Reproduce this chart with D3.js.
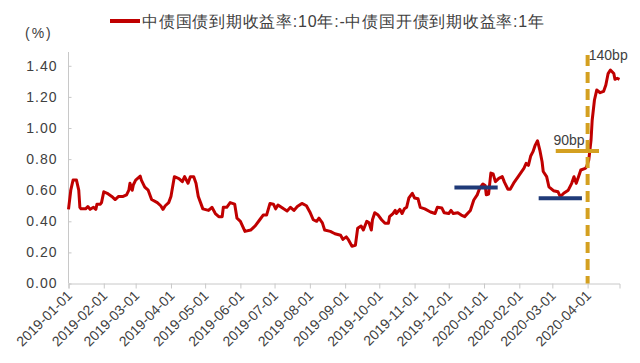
<!DOCTYPE html>
<html><head><meta charset="utf-8">
<script src="https://cdn.jsdelivr.net/npm/d3@7/dist/d3.min.js"></script>
<style>
html,body{margin:0;padding:0;background:#fff;}
svg{display:block;}
text{font-family:"Liberation Sans",Arial,sans-serif;fill:#404040;}
</style></head>
<body>
<script>
// ---- data ----
const dates = [
"2019-01-01","2019-01-03","2019-01-05","2019-01-08","2019-01-10","2019-01-11","2019-01-12","2019-01-16","2019-01-18","2019-01-20",
"2019-01-23","2019-01-25","2019-01-26","2019-01-29","2019-01-30","2019-02-01","2019-02-04","2019-02-08","2019-02-11","2019-02-14",
"2019-02-18","2019-02-21","2019-02-23","2019-02-24","2019-02-26","2019-02-27","2019-03-01","2019-03-05","2019-03-06","2019-03-09",
"2019-03-12","2019-03-15","2019-03-20","2019-03-23","2019-03-25","2019-03-27","2019-03-30","2019-04-01","2019-04-03","2019-04-04",
"2019-04-08","2019-04-11","2019-04-13","2019-04-16","2019-04-18","2019-04-21","2019-04-23","2019-04-25","2019-04-27","2019-04-29",
"2019-05-04","2019-05-07","2019-05-10","2019-05-13","2019-05-16","2019-05-17","2019-05-20","2019-05-23","2019-05-27","2019-05-29",
"2019-06-01","2019-06-05","2019-06-10","2019-06-14","2019-06-18","2019-06-21","2019-06-24","2019-06-27","2019-06-30","2019-07-02",
"2019-07-04","2019-07-09","2019-07-12","2019-07-15","2019-07-18","2019-07-21","2019-07-25","2019-07-29","2019-08-01","2019-08-04",
"2019-08-07","2019-08-09","2019-08-12","2019-08-14","2019-08-19","2019-08-23","2019-08-28","2019-08-30","2019-09-02","2019-09-04",
"2019-09-07","2019-09-10","2019-09-12","2019-09-15","2019-09-17","2019-09-20","2019-09-22","2019-09-24","2019-09-25","2019-09-27",
"2019-09-30","2019-10-03","2019-10-06","2019-10-09","2019-10-10","2019-10-13","2019-10-15","2019-10-16","2019-10-19","2019-10-21",
"2019-10-23","2019-10-25","2019-10-27","2019-10-30","2019-11-01","2019-11-04","2019-11-06","2019-11-10","2019-11-15","2019-11-19",
"2019-11-21","2019-11-25","2019-11-27","2019-12-01","2019-12-03","2019-12-05","2019-12-09","2019-12-12","2019-12-15","2019-12-20",
"2019-12-23","2019-12-26","2019-12-28","2019-12-31","2020-01-02","2020-01-03","2020-01-05","2020-01-07","2020-01-09","2020-01-11",
"2020-01-14","2020-01-17","2020-01-19","2020-01-22","2020-01-24","2020-01-27","2020-01-31","2020-02-05","2020-02-07","2020-02-09",
"2020-02-11","2020-02-13","2020-02-15","2020-02-17","2020-02-19","2020-02-21","2020-02-22","2020-02-25","2020-02-27","2020-03-02",
"2020-03-06","2020-03-08","2020-03-11","2020-03-15","2020-03-18","2020-03-20","2020-03-22","2020-03-24","2020-03-26","2020-03-30",
"2020-03-31","2020-04-02","2020-04-04","2020-04-05","2020-04-07","2020-04-09","2020-04-12","2020-04-15","2020-04-17","2020-04-19",
"2020-04-21","2020-04-24","2020-04-25","2020-04-27","2020-04-29"
];
const spread = [
0.477,0.60,0.665,0.665,0.60,0.49,0.48,0.48,0.495,0.477,
0.49,0.477,0.51,0.51,0.52,0.59,0.58,0.56,0.54,0.56,
0.56,0.57,0.60,0.645,0.60,0.635,0.665,0.69,0.665,0.62,
0.60,0.54,0.52,0.50,0.477,0.50,0.52,0.56,0.645,0.687,
0.675,0.655,0.687,0.645,0.687,0.687,0.645,0.56,0.52,0.48,
0.47,0.49,0.45,0.43,0.43,0.49,0.49,0.52,0.51,0.42,
0.40,0.335,0.344,0.37,0.41,0.44,0.44,0.515,0.51,0.48,
0.505,0.48,0.466,0.49,0.47,0.495,0.515,0.50,0.46,0.41,
0.40,0.42,0.39,0.344,0.335,0.32,0.31,0.284,0.30,0.28,
0.24,0.245,0.355,0.37,0.344,0.40,0.39,0.344,0.41,0.455,
0.44,0.41,0.387,0.387,0.43,0.45,0.47,0.45,0.477,0.45,
0.48,0.49,0.55,0.58,0.55,0.545,0.49,0.48,0.46,0.45,
0.49,0.485,0.455,0.45,0.47,0.45,0.455,0.44,0.43,0.47,
0.537,0.57,0.61,0.64,0.63,0.57,0.575,0.71,0.705,0.655,
0.676,0.687,0.65,0.606,0.606,0.645,0.687,0.74,0.773,0.76,
0.82,0.848,0.89,0.918,0.858,0.783,0.72,0.687,0.622,0.597,
0.59,0.558,0.58,0.60,0.644,0.687,0.644,0.687,0.73,0.74,
0.75,0.794,0.923,1.05,1.18,1.244,1.227,1.235,1.277,1.35,
1.373,1.35,1.313,1.32,1.313
];
const xTickLabels = ["2019-01-01","2019-02-01","2019-03-01","2019-04-01","2019-05-01","2019-06-01","2019-07-01","2019-08-01",
"2019-09-01","2019-10-01","2019-11-01","2019-12-01","2020-01-01","2020-02-01","2020-03-01","2020-04-01"];
const yTicks = [0,0.2,0.4,0.6,0.8,1.0,1.2,1.4];
const seriesName = "中债国债到期收益率:10年:-中债国开债到期收益率:1年";
const unitLabel = "(%)";
// annotations: [startDate, endDate, level]
const blueLevels = [["2019-12-06","2020-01-13",0.618],["2020-02-18","2020-03-27",0.548]];
const goldLevel = ["2020-03-04","2020-04-11",0.852];
const markerDate = "2020-04-01";
const markerTop = 1.47;
const notes = [["90bp","2020-03-02",0.925],["140bp","2020-04-02",1.47]];

const W=640,H=363;
const parse = d3.timeParse("%Y-%m-%d");
const svg = d3.select("body").append("svg").attr("width",W).attr("height",H);

const x = d3.scaleTime().domain([parse("2019-01-01"),parse("2020-04-29")]).range([68.5,619.5]);
const y = d3.scaleLinear().domain([0,1.4]).range([283.5,65.8]);

// y axis
const ya = svg.append("g").attr("transform","translate(68.5,0)")
  .call(d3.axisLeft(y).tickValues(yTicks).tickSize(-3).tickPadding(11).tickFormat(d3.format(".2f")));
ya.select(".domain").attr("stroke","#c8c8c8").attr("d","M0,52V283.5");
ya.selectAll(".tick line").attr("stroke","#c8c8c8");
ya.selectAll(".tick text").attr("font-size",14).attr("fill","#404040").style("letter-spacing","1px")
  .attr("font-family","Liberation Sans, Arial, sans-serif");

// x axis
const xa = svg.append("g").attr("transform","translate(0,283.5)")
  .call(d3.axisBottom(x).tickValues(xTickLabels.map(parse)).tickSize(5).tickFormat(d3.timeFormat("%Y-%m-%d")));
xa.select(".domain").attr("stroke","#c8c8c8");
xa.selectAll(".tick line").attr("stroke","#c8c8c8");
xa.selectAll(".tick text").attr("font-size",14).attr("fill","#404040")
  .attr("font-family","Liberation Sans, Arial, sans-serif")
  .attr("text-anchor","end").attr("dy",0).attr("y",0)
  .attr("transform","translate(4,13) rotate(-45)");

// line
const pts = dates.map((d,i)=>({d:parse(d),v:spread[i]}));
svg.append("path").datum(pts)
  .attr("fill","none").attr("stroke","#c00000").attr("stroke-width",3).attr("stroke-linejoin","round")
  .attr("d",d3.line().x(p=>x(p.d)).y(p=>y(p.v)));

// annotations
blueLevels.forEach(b=>{
  svg.append("line").attr("x1",x(parse(b[0]))).attr("x2",x(parse(b[1])))
    .attr("y1",y(b[2])).attr("y2",y(b[2])).attr("stroke","#1f3a78").attr("stroke-width",4);
});
svg.append("line").attr("x1",x(parse(markerDate))).attr("x2",x(parse(markerDate)))
  .attr("y1",y(markerTop)).attr("y2",y(0)).attr("stroke","#d4a020").attr("stroke-width",4)
  .attr("stroke-dasharray","11,6");
svg.append("line").attr("x1",x(parse(goldLevel[0]))).attr("x2",x(parse(goldLevel[1])))
  .attr("y1",y(goldLevel[2])).attr("y2",y(goldLevel[2])).attr("stroke","#d4a020").attr("stroke-width",4);
notes.forEach(n=>{
  svg.append("text").attr("x",x(parse(n[1]))).attr("y",y(n[2])+5)
    .attr("font-size",14).attr("fill","#333").text(n[0]);
});

// unit & legend
svg.append("text").attr("x",25).attr("y",38).attr("font-size",14).style("letter-spacing","2px").text(unitLabel);
svg.append("line").attr("x1",110).attr("x2",140).attr("y1",21).attr("y2",21).attr("stroke","#c00000").attr("stroke-width",4);
svg.append("text").attr("x",142).attr("y",27).attr("font-size",16)
  .attr("textLength",402).attr("lengthAdjust","spacing")
  .attr("font-family","Noto Sans CJK SC, sans-serif").attr("fill","#333").text(seriesName);
</script>
</body></html>
